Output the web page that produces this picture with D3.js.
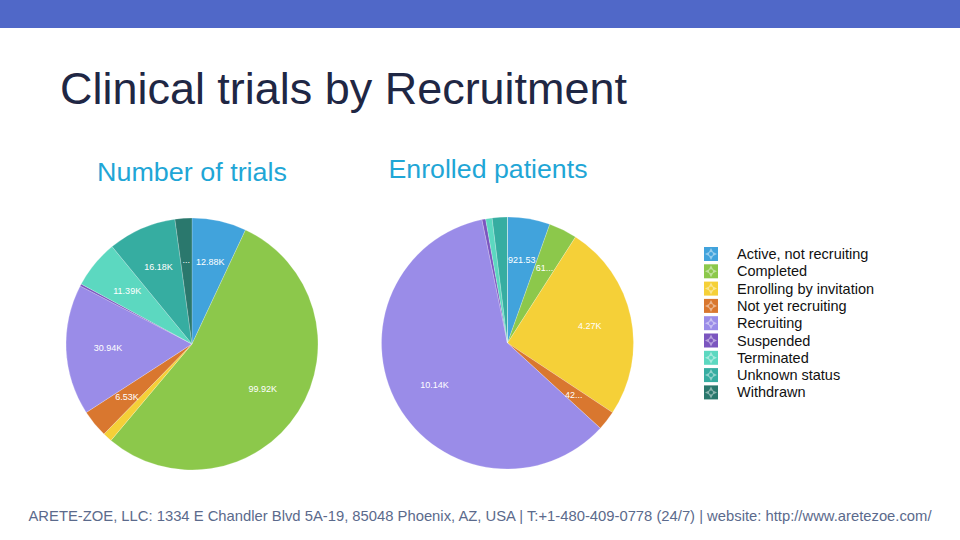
<!DOCTYPE html>
<html>
<head>
<meta charset="utf-8">
<script src="https://cdn.jsdelivr.net/npm/d3@7"></script>
<style>
  html, body { margin: 0; padding: 0; background: #fff; }
  svg { display: block; font-family: Arial, "Liberation Sans", sans-serif; }
</style>
</head>
<body>
<svg id="chart" width="960" height="540"></svg>
<script>
// categories and colours shared by both pies
const categories = [
    "Active, not recruiting", "Completed", "Enrolling by invitation",
    "Not yet recruiting", "Recruiting", "Suspended",
    "Terminated", "Unknown status", "Withdrawn"
];
const colors = [
    "#41a3dc", "#8cc84b", "#f5d038", "#d9772f", "#9a8ce8",
    "#7b55bf", "#5cd8c0", "#36ada1", "#2a786d"
];

// number of trials per status
const trialCounts = [12880, 99920, 2200, 6530, 30940, 500, 11390, 16180, 4000];
// enrolled patients per status
const enrolledPatients = [921.53, 614.26, 4270, 425.17, 10140, 80, 140, 330, 0];

const pageTitle = "Clinical trials by Recruitment";
const pieTitles = ["Number of trials", "Enrolled patients"];
const footerText = "ARETE-ZOE, LLC: 1334 E Chandler Blvd 5A-19, 85048 Phoenix, AZ, USA | T:+1-480-409-0778 (24/7) | website: http://www.aretezoe.com/";

const svg = d3.select("#chart");

// top band
svg.append("rect")
    .attr("x", 0).attr("y", 0)
    .attr("width", 960).attr("height", 28)
    .attr("fill", "#5068c8");

svg.append("text")
    .attr("x", 60).attr("y", 104)
    .attr("font-size", 44)
    .attr("fill", "#1f2744")
    .attr("textLength", 567)
    .attr("lengthAdjust", "spacingAndGlyphs")
    .text(pageTitle);

svg.append("text")
    .attr("x", 480).attr("y", 521)
    .attr("text-anchor", "middle")
    .attr("font-size", 14.5)
    .attr("fill", "#5b6a8c")
    .attr("textLength", 903)
    .attr("lengthAdjust", "spacingAndGlyphs")
    .text(footerText);

const fmt = v => v >= 1000 ? (v / 1000).toFixed(2) + "K" : v.toFixed(2);

function drawPie(values, cx, cy, r, title, titleX, titleY, titleWidth) {
    const g = svg.append("g").attr("transform", `translate(${cx},${cy})`);

    svg.append("text")
        .attr("x", titleX).attr("y", titleY)
        .attr("text-anchor", "middle")
        .attr("font-size", 26)
        .attr("fill", "#1fa6d6")
        .attr("textLength", titleWidth)
        .attr("lengthAdjust", "spacingAndGlyphs")
        .text(title);

    const data = categories.map((c, i) => ({ name: c, value: values[i], color: colors[i] }));
    const arcs = d3.pie().sort(null).value(d => d.value)(data);
    const arc = d3.arc().innerRadius(0).outerRadius(r);

    g.selectAll("path")
        .data(arcs)
        .join("path")
        .attr("d", arc)
        .attr("fill", d => d.data.color)
        .attr("stroke", "rgba(255,255,255,0.35)")
        .attr("stroke-width", 0.6);

    const rho = r * 2 / 3;
    const labelArc = d3.arc().innerRadius(rho).outerRadius(rho);

    // horizontal room inside the wedge at the label's row, centred on the label
    function room(d, lx, ly) {
        const inside = x => {
            const ang = Math.atan2(x, -ly);
            const a = ang < 0 ? ang + 2 * Math.PI : ang;
            return Math.hypot(x, ly) <= r && a >= d.startAngle && a <= d.endAngle;
        };
        let left = 0, right = 0;
        while (inside(lx - left - 0.5) && left < r) left += 0.5;
        while (inside(lx + right + 0.5) && right < r) right += 0.5;
        return 2 * Math.min(left, right);
    }

    arcs.forEach(d => {
        if (d.value <= 0) return;
        const [lx, ly] = labelArc.centroid(d);
        if (rho * (d.endAngle - d.startAngle) < 11) return;
        const avail = room(d, lx, ly);
        const t = g.append("text")
            .attr("x", lx).attr("y", ly)
            .attr("dy", "0.35em")
            .attr("text-anchor", "middle")
            .attr("font-size", 9)
            .attr("fill", "#fff");
        const full = fmt(d.value);
        t.text(full);
        if (t.node().getComputedTextLength() <= avail) return;
        for (let n = full.length - 1; n >= 0; n--) {
            t.text(full.slice(0, n) + "...");
            if (t.node().getComputedTextLength() <= avail) return;
        }
        t.remove();
    });
}

drawPie(trialCounts, 192, 344, 126, pieTitles[0], 192, 181, 190);
drawPie(enrolledPatients, 507.5, 343, 126, pieTitles[1], 488, 178, 199);

// legend
const legend = svg.append("g").attr("transform", "translate(704,247)");
const rows = legend.selectAll("g")
    .data(categories)
    .join("g")
    .attr("transform", (d, i) => `translate(0,${i * 17.3})`);

rows.append("rect")
    .attr("width", 14).attr("height", 14)
    .attr("fill", (d, i) => colors[i]);
// lighter four-point glyph inside the marker
rows.append("path")
    .attr("d", "M7,1 L9,5 L13,7 L9,9 L7,13 L5,9 L1,7 L5,5 Z")
    .attr("fill", "rgba(255,255,255,0.45)");
rows.append("circle")
    .attr("cx", 7).attr("cy", 7).attr("r", 2)
    .attr("fill", (d, i) => colors[i]);

rows.append("text")
    .attr("x", 33).attr("y", 7)
    .attr("dy", "0.35em")
    .attr("font-size", 14.5)
    .attr("fill", "#111")
    .text(d => d);
</script>
</body>
</html>
